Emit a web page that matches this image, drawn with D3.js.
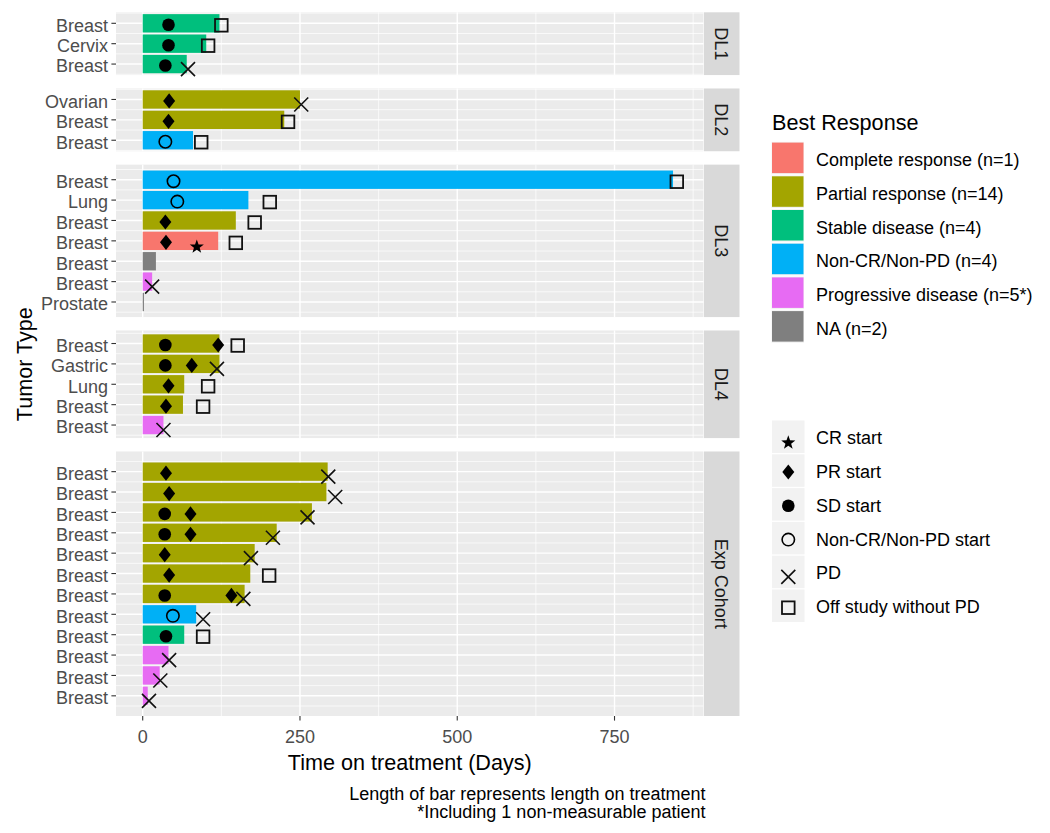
<!DOCTYPE html>
<html><head><meta charset="utf-8">
<script src="https://cdn.jsdelivr.net/npm/d3@7"></script>
<style>
body{margin:0;background:#fff}
svg{display:block;font-family:"Liberation Sans",Arial,sans-serif}
</style>
</head><body>
<svg id="chart" width="1050" height="833"></svg>
<script>
// ---------------- DATA ----------------
const panelNames = ["DL1","DL2","DL3","DL4","Exp Cohort"];
const panelOf = ["DL1","DL1","DL1","DL2","DL2","DL2","DL3","DL3","DL3","DL3","DL3","DL3","DL3",
  "DL4","DL4","DL4","DL4","DL4",
  "Exp Cohort","Exp Cohort","Exp Cohort","Exp Cohort","Exp Cohort","Exp Cohort","Exp Cohort","Exp Cohort","Exp Cohort","Exp Cohort","Exp Cohort","Exp Cohort"];
const tumorType = ["Breast","Cervix","Breast","Ovarian","Breast","Breast","Breast","Lung","Breast","Breast","Breast","Breast","Prostate",
  "Breast","Gastric","Lung","Breast","Breast",
  "Breast","Breast","Breast","Breast","Breast","Breast","Breast","Breast","Breast","Breast","Breast","Breast"];
const bestResponse = ["SD","SD","SD","PR","PR","NonCR","NonCR","NonCR","PR","CR","NA","PD","NA",
  "PR","PR","PR","PR","PD",
  "PR","PR","PR","PR","PR","PR","PR","NonCR","SD","PD","PD","PD"];
const daysOnTreatment = [122,101,70,250,225,80,843,168,148,120,21,15,2,
  122,122,66,64,33,
  294,292,269,213,178,171,162,85,66,41,27,8];
const crStart  = [null,null,null,null,null,null,null,null,null,86,null,null,null, null,null,null,null,null, null,null,null,null,null,null,null,null,null,null,null,null];
const prStart  = [null,null,null,42,41,null,null,null,36,37,null,null,null, 120,78,41,37,null, 37,42,76,76,35,42,141,null,null,null,null,null];
const sdStart  = [41,41,36,null,null,null,null,null,null,null,null,null,null, 36,36,null,null,null, null,null,35,35,null,null,35,null,37,null,null,null];
const nonStart = [null,null,null,null,null,36,49,55,null,null,null,null,null, null,null,null,null,null, null,null,null,null,null,null,null,48,null,null,null,null];
const pdTime   = [null,null,72,252,null,null,null,null,null,null,null,15,null, null,118,null,null,33, 295,306,262,207,172,null,160,96,null,42,28,10];
const offStudy = [125,104,null,null,231,93,849,202,178,148,null,null,null, 151,null,104,96,null, null,null,null,null,null,201,null,null,96,null,null,null];

const responseKeys   = ["CR","PR","SD","NonCR","PD","NA"];
const responseLabels = ["Complete response (n=1)","Partial response (n=14)","Stable disease (n=4)","Non-CR/Non-PD (n=4)","Progressive disease (n=5*)","NA (n=2)"];
const responseColors = ["#F8766D","#A3A500","#00BF7D","#00B0F6","#E76BF3","#7F7F7F"];
const shapeKeys   = ["cr","pr","sd","non","pd","off"];
const shapeLabels = ["CR start","PR start","SD start","Non-CR/Non-PD start","PD","Off study without PD"];
const xTicks = [0,250,500,750];
const xMinor = [125,375,625,875];
const captionLines = ["Length of bar represents length on treatment","*Including 1 non-measurable patient"];

// ---------------- LAYOUT ----------------
const svg = d3.select("#chart");
svg.append("rect").attr("width",1050).attr("height",833).attr("fill","#fff");
const L = 116, R = 703.5, T = 12.3, B = 716, gap = 13.4, stripW = 35.5;

const patients = tumorType.map((t,i)=>({i, panel:panelOf[i], tumor:t, resp:bestResponse[i], dur:daysOnTreatment[i],
  cr:crStart[i], pr:prStart[i], sd:sdStart[i], non:nonStart[i], pd:pdTime[i], off:offStudy[i]}));

const allX = [0];
patients.forEach(p=>["dur","cr","pr","sd","non","pd","off"].forEach(k=>{ if(p[k]!=null) allX.push(p[k]); }));
const xlo = d3.min(allX), xhi = d3.max(allX), xs = xhi - xlo;
const x = d3.scaleLinear().domain([xlo-0.05*xs, xhi+0.05*xs]).range([L,R]);

const color = d3.scaleOrdinal().domain(responseKeys).range(responseColors);

// panels
const panelData = panelNames.map(name=>{
  const rows = patients.filter(p=>p.panel===name);
  rows.forEach((p,k)=>p.row=k);
  const n = rows.length;
  const lo = -0.4, hi = n-1+0.4, span = hi-lo;
  return {name, rows, n, dlo: lo-0.05*span, dhi: hi+0.05*span};
});
const totalExt = d3.sum(panelData, d=>d.dhi-d.dlo);
const unit = (B - T - gap*(panelData.length-1))/totalExt;
let cursor = T;
panelData.forEach(pd=>{
  pd.top = cursor; pd.h = (pd.dhi-pd.dlo)*unit; pd.bottom = cursor+pd.h; cursor = pd.bottom+gap;
  pd.y = d3.scaleLinear().domain([pd.dlo,pd.dhi]).range([pd.top,pd.bottom]);
});

// shapes
const nudge = {cr:6, pr:1.5, sd:1.5, non:1.5, pd:5, off:2};
function drawShape(g, type, cx, cy){
  cy += nudge[type];
  if(type==="sd"){
    g.append("circle").attr("cx",cx).attr("cy",cy).attr("r",6.3).attr("fill","#000");
  } else if(type==="non"){
    g.append("circle").attr("cx",cx).attr("cy",cy).attr("r",6.2).attr("fill","none").attr("stroke","#000").attr("stroke-width",1.6);
  } else if(type==="pr"){
    g.append("path").attr("d",`M${cx},${cy-7.6}L${cx+6},${cy}L${cx},${cy+7.6}L${cx-6},${cy}Z`).attr("fill","#000");
  } else if(type==="cr"){
    const pts=[]; for(let k=0;k<10;k++){const a=-Math.PI/2+k*Math.PI/5; const rr=k%2?3.0:7.4; pts.push([cx+rr*Math.cos(a), cy+rr*Math.sin(a)]);}
    g.append("path").attr("d","M"+pts.map(p=>p.join(",")).join("L")+"Z").attr("fill","#000");
  } else if(type==="pd"){
    g.append("path").attr("d",`M${cx-7},${cy-7}L${cx+7},${cy+7}M${cx-7},${cy+7}L${cx+7},${cy-7}`).attr("stroke","#111").attr("stroke-width",1.6).attr("fill","none");
  } else if(type==="off"){
    g.append("rect").attr("x",cx-6.3).attr("y",cy-6.3).attr("width",12.6).attr("height",12.6).attr("fill","none").attr("stroke","#111").attr("stroke-width",1.8);
  }
}

panelData.forEach(pd=>{
  const g = svg.append("g");
  g.append("rect").attr("x",L).attr("y",pd.top).attr("width",R-L).attr("height",pd.h).attr("fill","#EBEBEB");
  // minor grid
  xMinor.forEach(v=>{ if(x(v)>L && x(v)<R) g.append("line").attr("x1",x(v)).attr("x2",x(v)).attr("y1",pd.top).attr("y2",pd.bottom).attr("stroke","#fff").attr("stroke-width",0.7); });
  for(let k=-1;k<pd.n;k++){ const v=k+0.5; if(v>pd.dlo && v<pd.dhi) g.append("line").attr("x1",L).attr("x2",R).attr("y1",pd.y(v)).attr("y2",pd.y(v)).attr("stroke","#fff").attr("stroke-width",0.7); }
  // major grid
  xTicks.forEach(v=>g.append("line").attr("x1",x(v)).attr("x2",x(v)).attr("y1",pd.top).attr("y2",pd.bottom).attr("stroke","#fff").attr("stroke-width",1.4));
  pd.rows.forEach(p=>g.append("line").attr("x1",L).attr("x2",R).attr("y1",pd.y(p.row)).attr("y2",pd.y(p.row)).attr("stroke","#fff").attr("stroke-width",1.4));
  // bars
  g.selectAll("rect.bar").data(pd.rows).join("rect").attr("class","bar")
    .attr("x",x(0)).attr("width",p=>x(p.dur)-x(0))
    .attr("y",p=>pd.y(p.row-0.45)).attr("height",p=>pd.y(p.row+0.45)-pd.y(p.row-0.45))
    .attr("fill",p=>color(p.resp));
  // markers
  pd.rows.forEach(p=>{
    ["sd","non","pr","cr","pd","off"].forEach(t=>{ if(p[t]!=null) drawShape(g,t,x(p[t]),pd.y(p.row)); });
  });
  // y axis ticks & labels
  pd.rows.forEach(p=>{
    g.append("line").attr("x1",L-4.6).attr("x2",L).attr("y1",pd.y(p.row)).attr("y2",pd.y(p.row)).attr("stroke","#333").attr("stroke-width",1.1);
    g.append("text").attr("x",L-8).attr("y",pd.y(p.row)).attr("dy","0.46em").attr("text-anchor","end")
      .attr("font-size",18).attr("fill","#4D4D4D").text(p.tumor);
  });
  // strip
  g.append("rect").attr("x",R+0.5).attr("y",pd.top).attr("width",stripW).attr("height",pd.h).attr("fill","#D9D9D9");
  const sx = R+0.5+stripW/2, sy=(pd.top+pd.bottom)/2;
  g.append("text").attr("transform",`translate(${sx},${sy}) rotate(90)`).attr("text-anchor","middle").attr("dy","0.35em")
    .attr("font-size",18).attr("fill","#1A1A1A").text(pd.name);
});

// x axis
const xa = svg.append("g");
xTicks.forEach(v=>{
  xa.append("line").attr("x1",x(v)).attr("x2",x(v)).attr("y1",B).attr("y2",B+4.6).attr("stroke","#333").attr("stroke-width",1.1);
  xa.append("text").attr("x",x(v)).attr("y",743).attr("text-anchor","middle").attr("font-size",18).attr("fill","#4D4D4D").text(v);
});
svg.append("text").attr("x",(L+R)/2).attr("y",770).attr("text-anchor","middle").attr("font-size",21.6).attr("fill","#000").text("Time on treatment (Days)");
svg.append("text").attr("transform",`translate(32,${(T+B)/2}) rotate(-90)`).attr("text-anchor","middle").attr("font-size",21.6).attr("fill","#000").text("Tumor Type");
captionLines.forEach((c,k)=>svg.append("text").attr("x",R+2).attr("y",800+k*18).attr("text-anchor","end").attr("font-size",18).attr("fill","#000").text(c));

// fill legend
const lg = svg.append("g");
lg.append("text").attr("x",772).attr("y",129.5).attr("font-size",21.6).attr("fill","#000").text("Best Response");
responseKeys.forEach((k,i)=>{
  const top = 141.8 + i*33.7;
  lg.append("rect").attr("x",771.5).attr("y",top).attr("width",32.5).attr("height",32.5).attr("fill","#F2F2F2");
  lg.append("rect").attr("x",772).attr("y",top+0.8).attr("width",31.5).attr("height",30.5).attr("fill",color(k));
  lg.append("text").attr("x",816).attr("y",top+16.2).attr("dy","0.46em").attr("font-size",18).attr("fill","#000").text(responseLabels[i]);
});
// shape legend
shapeKeys.forEach((k,i)=>{
  const top = 420.5 + i*33.8;
  lg.append("rect").attr("x",772).attr("y",top).attr("width",32.5).attr("height",32.5).attr("fill","#F2F2F2");
  drawShape(lg,k,788.3,top+16.2);
  lg.append("text").attr("x",816).attr("y",top+16.2).attr("dy","0.42em").attr("font-size",18).attr("fill","#000").text(shapeLabels[i]);
});
</script>
</body></html>
